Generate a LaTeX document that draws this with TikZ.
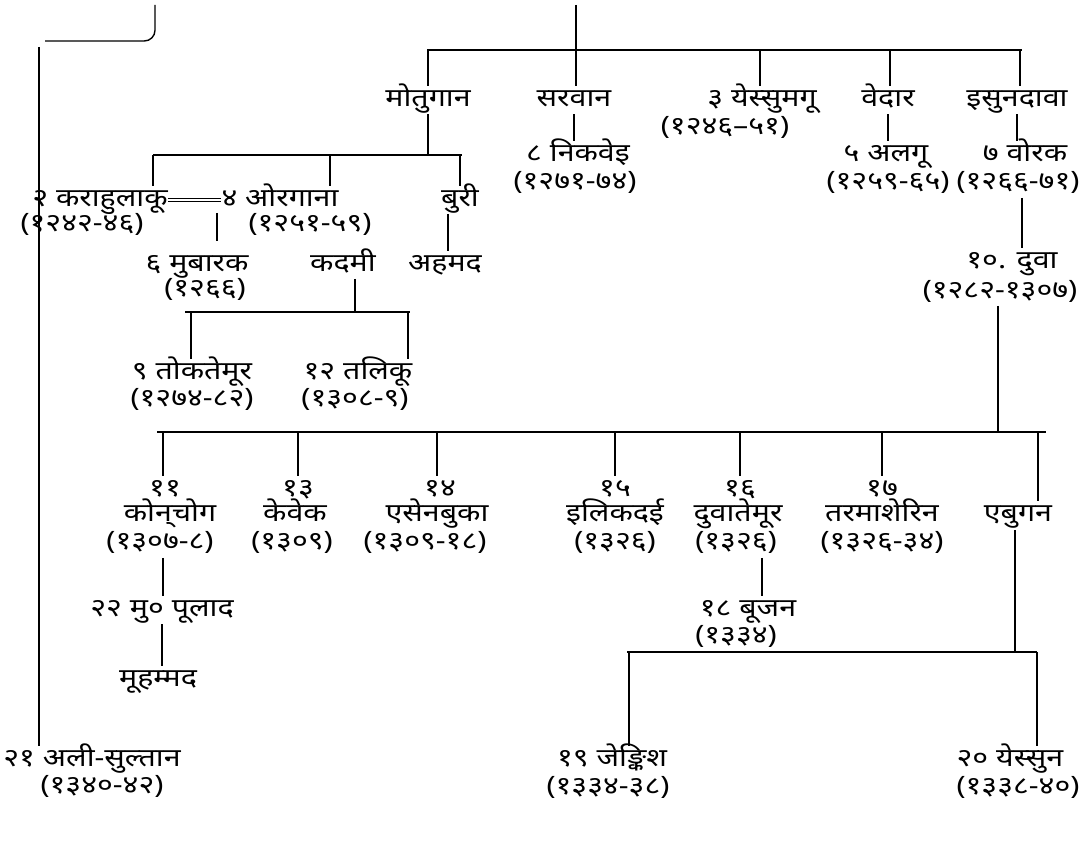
\documentclass[tikz,border=0pt]{standalone}
\usepackage{fontspec}
\newfontfamily\dev[Script=Devanagari,FakeStretch=1.2]{Noto Sans}
\begin{document}
\begin{tikzpicture}[x=0.75pt,y=-0.75pt,line width=1.05pt,
  lbl/.style={font=\dev\fontsize{19}{21}\selectfont, inner sep=0pt, text height=15pt, text depth=5pt, anchor=center}]
\useasboundingbox (0,0) rectangle (1086,841);

% ---------- labels ----------
\node[lbl] (mot) at (428,100) {मोतुगान};
\node[lbl] (sar) at (574,100) {सरवान};
\node[lbl] (yes) at (762,100) {३ येस्सुमगू};
\node[lbl] (yesd) at (725,128) {(१२४६–५१)};
\node[lbl] (ved) at (888,100) {वेदार};
\node[lbl] (isu) at (1017,100) {इसुनदावा};

\node[lbl] (nik) at (578,155) {८ निकवेइ};
\node[lbl] (nikd) at (575,183) {(१२७१-७४)};
\node[lbl] (alg) at (886,155) {५ अलगू};
\node[lbl] (algd) at (888,183) {(१२५९-६५)};
\node[lbl] (vor) at (1025,155) {७ वोरक};
\node[lbl] (vord) at (1018,183) {(१२६६-७१)};

\node[lbl] (kar) at (100,200) {२ कराहुलाकू};
\node[lbl] (org) at (280,200) {४ ओरगाना};
\node[lbl] (bur) at (460,200) {बुरी};
\node[lbl] (kard) at (82,225) {(१२४२-४६)};
\node[lbl] (orgd) at (310,225) {(१२५१-५९)};

\node[lbl] (mub) at (197,265) {६ मुबारक};
\node[lbl] (kad) at (343,265) {कदमी};
\node[lbl] (ahm) at (445,265) {अहमद};
\node[lbl] (mubd) at (205,290) {(१२६६)};

\node[lbl] (tok) at (192,373) {९ तोकतेमूर};
\node[lbl] (tokd) at (192,400) {(१२७४-८२)};
\node[lbl] (tal) at (358,373) {१२ तलिकू};
\node[lbl] (tald) at (355,400) {(१३०८-९)};

\node[lbl] (duv) at (1012,262) {१०. दुवा};
\node[lbl] (duvd) at (1000,292) {(१२८२-१३०७)};

\node[lbl] (n11) at (165,490) {११};
\node[lbl] (n13) at (298,490) {१३};
\node[lbl] (n14) at (440,490) {१४};
\node[lbl] (n15) at (615,490) {१५};
\node[lbl] (n16) at (740,490) {१६};
\node[lbl] (n17) at (882,490) {१७};

\node[lbl] (kon) at (170,515) {कोन्^^^^200cचोग};
\node[lbl] (keb) at (295,515) {केवेक};
\node[lbl] (ese) at (437,515) {एसेनबुका};
\node[lbl] (ili) at (615,515) {इलिकदई};
\node[lbl] (dut) at (738,515) {दुवातेमूर};
\node[lbl] (tar) at (882,515) {तरमाशेरिन};
\node[lbl] (ebu) at (1018,515) {एबुगन};

\node[lbl] (kond) at (160,543) {(१३०७-८)};
\node[lbl] (kebd) at (292,543) {(१३०९)};
\node[lbl] (esed) at (425,543) {(१३०९-१८)};
\node[lbl] (ilid) at (615,543) {(१३२६)};
\node[lbl] (dutd) at (736,543) {(१३२६)};
\node[lbl] (tard) at (882,543) {(१३२६-३४)};

\node[lbl] (pul) at (162,610) {२२ मु० पूलाद};
\node[lbl] (muh) at (158,680) {मूहम्मद};
\node[lbl] (ali) at (92,760) {२१ अली-सुल्तान};
\node[lbl] (alid) at (102,787) {(१३४०-४२)};

\node[lbl] (buj) at (748,610) {१८ बूजन};
\node[lbl] (bujd) at (736,637) {(१३३४)};
\node[lbl] (jen) at (612,760) {१९ जेङ्किश};
\node[lbl] (jend) at (608,788) {(१३३४-३८)};
\node[lbl] (yesu) at (1010,760) {२० येस्सुन};
\node[lbl] (yesud) at (1018,788) {(१३३८-४०)};

% ---------- coordinates ----------
\coordinate (top) at (576,5);
\coordinate (b1L) at (427,50);  \coordinate (b1R) at (1022,50);
\coordinate (d1) at (428,50); \coordinate (d2) at (576,50); \coordinate (d3) at (760,50);
\coordinate (d4) at (890,50); \coordinate (d5) at (1020,50);
\coordinate (b2L) at (153,155); \coordinate (b2R) at (462,155);
\coordinate (dk) at (153,155); \coordinate (do) at (330,155); \coordinate (db) at (460,155);
\coordinate (mc1) at (217,213); \coordinate (mc2) at (217,241);
\coordinate (bv) at (448,214);
\coordinate (kv) at (355,279);
\coordinate (b3L) at (185,312); \coordinate (b3R) at (410,312);
\coordinate (dt) at (191,312); \coordinate (dl) at (408,312);
\coordinate (vv) at (1022,198);
\coordinate (dv) at (998,306);
\coordinate (b4L) at (157,432); \coordinate (b4R) at (1046,432);
\coordinate (e1) at (163,432); \coordinate (e2) at (298,432); \coordinate (e3) at (437,432);
\coordinate (e4) at (615,432); \coordinate (e5) at (740,432); \coordinate (e6) at (882,432);
\coordinate (e7) at (1038,432);
\coordinate (kv2) at (163,558);
\coordinate (pv) at (162,624);
\coordinate (bv2) at (762,558);
\coordinate (ev) at (1015,530);
\coordinate (b5L) at (627,652); \coordinate (b5R) at (1037,652);
\coordinate (dj) at (629,652); \coordinate (dy) at (1037,652);
\coordinate (br1) at (155,5); \coordinate (br2) at (45,41);
\coordinate (L1) at (39,47);

% ---------- connectors ----------
\draw (top) -- (top |- b1L);
\draw (b1L) -- (b1R);
\foreach \d/\n in {d1/mot,d2/sar,d3/yes,d4/ved,d5/isu} \draw (\d) -- (\d |- \n.north);
\draw (mot.south) -- (mot.south |- b2L);
\draw (sar.south) -- (sar.south |- nik.north);
\draw (ved.south) -- (ved.south |- alg.north);
\draw (isu.south) -- (isu.south |- vor.north);
\draw (b2L) -- (b2R);
\foreach \d/\n in {dk/kar,do/org,db/bur} \draw (\d) -- (\d |- \n.north);
\draw[double, double distance=2.2pt, line width=0.7pt] (kar.east) -- (org.west);
\draw (mc1) -- (mc2);
\draw (bv) -- (bv |- ahm.north);
\draw (kv) -- (kv |- b3L);
\draw (b3L) -- (b3R);
\draw (dt) -- (dt |- tok.north);
\draw (dl) -- (dl |- tal.north);
\draw (vv) -- (vv |- duv.north);
\draw (dv) -- (dv |- b4L);
\draw (b4L) -- (b4R);
\foreach \d/\n in {e1/n11,e2/n13,e3/n14,e4/n15,e5/n16,e6/n17,e7/ebu} \draw (\d) -- (\d |- \n.north);
\draw (kv2) -- (kv2 |- pul.north);
\draw (pv) -- (pv |- muh.north);
\draw (bv2) -- (bv2 |- buj.north);
\draw (ev) -- (ev |- b5L);
\draw (b5L) -- (b5R);
\draw (dj) -- (dj |- jen.north);
\draw (dy) -- (dy |- yesu.north);
\draw[rounded corners=8pt] (br1) -- (br1 |- br2) -- (br2);
\draw (L1) -- (L1 |- ali.north);
\end{tikzpicture}
\end{document}
